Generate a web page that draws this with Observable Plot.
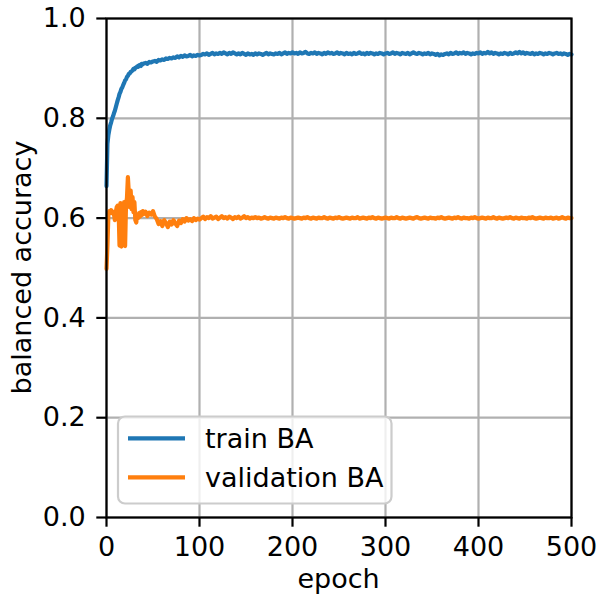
<!DOCTYPE html>
<html>
<head>
<meta charset="utf-8">
<script src="https://cdn.jsdelivr.net/npm/d3@7"></script>
<script src="https://cdn.jsdelivr.net/npm/@observablehq/plot@0.6"></script>
<style>
  html, body { margin: 0; padding: 0; background: white; }
</style>
</head>
<body>
<div id="chart"></div>
<script>
// Epochs: every epoch 0..40, then every 2nd epoch 42..500
const epochs = d3.range(0, 41).concat(d3.range(42, 501, 2));

const trainBA = [
  .664,.749,.766,.777,.786,.792,.799,.804,.810,.815,
  .822,.829,.836,.842,.849,.853,.859,.862,.867,.871,
  .876,.878,.883,.885,.889,.890,.893,.894,.896,.899,
  .898,.901,.902,.904,.903,.906,.907,.905,.909,.908,
  .910,
  // 42..100
  .911,.909,.913,.912,.914,.915,.913,.917,.916,.918,
  .917,.920,.919,.921,.920,.922,.921,.924,.922,.925,
  .923,.926,.924,.925,.927,.924,.926,.925,.927,.926,
  // 102..500
  .927,.929,.928,.930,.927,.929,.931,.928,.930,.929,
  .931,.929,.932,.930,.928,.931,.929,.932,.930,.928,
  .930,.928,.931,.929,.927,.930,.928,.929,.927,.930,
  .928,.930,.929,.927,.929,.931,.928,.930,.929,.928,
  .930,.929,.931,.928,.930,.932,.929,.931,.930,.932,
  .930,.931,.929,.932,.930,.931,.933,.930,.929,.931,
  .930,.932,.929,.931,.930,.928,.931,.929,.932,.930,
  .931,.929,.930,.932,.929,.931,.930,.928,.931,.929,
  .930,.928,.931,.929,.930,.932,.929,.930,.928,.931,
  .929,.931,.930,.928,.930,.929,.931,.930,.928,.930,
  .931,.929,.930,.932,.929,.931,.930,.928,.931,.930,
  .929,.931,.928,.930,.932,.930,.929,.931,.930,.928,
  .930,.929,.931,.928,.930,.929,.927,.929,.926,.928,
  .927,.929,.930,.928,.931,.929,.930,.932,.929,.931,
  .930,.932,.929,.931,.930,.928,.930,.929,.931,.930,
  .932,.929,.931,.930,.933,.930,.932,.929,.931,.930,
  .928,.930,.929,.931,.930,.928,.931,.929,.930,.932,
  .930,.933,.930,.932,.929,.931,.930,.929,.931,.928,
  .930,.929,.931,.930,.928,.930,.929,.931,.930,.928,
  .930,.931,.929,.930,.928,.930,.929,.927,.929,.928
];

const validationBA = [
  .498,.545,.605,.614,.612,.616,.610,.613,.608,.596,
  .612,.622,.625,.618,.545,.630,.543,.625,.548,.632,
  .544,.628,.640,.682,.650,.622,.655,.618,.642,.612,
  .632,.596,.591,.606,.600,.610,.603,.612,.606,.614,
  .608,
  // 42..100
  .613,.604,.611,.607,.614,.603,.598,.588,.594,.584,
  .596,.590,.582,.593,.587,.596,.589,.584,.595,.590,
  .598,.593,.600,.595,.598,.594,.600,.596,.599,.597,
  // 102..500
  .600,.603,.598,.602,.600,.604,.599,.601,.603,.598,
  .601,.604,.600,.602,.599,.603,.601,.598,.602,.600,
  .603,.599,.601,.604,.600,.602,.599,.601,.600,.602,
  .600,.601,.599,.600,.602,.600,.599,.601,.600,.599,
  .601,.600,.599,.601,.600,.602,.600,.599,.601,.600,
  .599,.600,.601,.600,.599,.601,.600,.602,.600,.599,
  .601,.600,.599,.601,.600,.600,.602,.600,.599,.601,
  .600,.599,.601,.600,.602,.600,.599,.600,.601,.600,
  .599,.601,.600,.600,.602,.599,.600,.601,.600,.599,
  .601,.600,.602,.600,.599,.601,.600,.599,.600,.601,
  .600,.599,.601,.600,.600,.602,.600,.599,.601,.600,
  .599,.600,.601,.600,.599,.601,.602,.600,.599,.600,
  .601,.600,.599,.601,.600,.600,.599,.601,.600,.602,
  .600,.599,.600,.601,.600,.599,.601,.600,.602,.600,
  .599,.601,.600,.600,.599,.601,.600,.602,.600,.599,
  .600,.601,.600,.599,.601,.600,.600,.602,.600,.599,
  .601,.600,.599,.600,.601,.600,.602,.600,.599,.601,
  .600,.599,.601,.600,.600,.599,.601,.600,.602,.600,
  .599,.600,.601,.600,.599,.601,.600,.600,.601,.599,
  .600,.601,.599,.600,.602,.600,.599,.601,.600,.600
];

const xTicks = [0, 100, 200, 300, 400, 500];
const yTicks = [0.0, 0.2, 0.4, 0.6, 0.8, 1.0];
const seriesNames = ["train BA", "validation BA"];
const seriesColors = ["#1f77b4", "#ff7f0e"];
const xLabel = "epoch";
const yLabel = "balanced accuracy";

const trainData = epochs.map((e, i) => ({epoch: e, ba: trainBA[i]}));
const valData = epochs.map((e, i) => ({epoch: e, ba: validationBA[i]}));

const FONT = "DejaVu Sans, sans-serif";
const FS = 27;
const LW = 4.2;

const chart = Plot.plot({
  width: 600,
  height: 598,
  marginLeft: 106,
  marginRight: 29,
  marginTop: 18,
  marginBottom: 81,
  style: {fontFamily: FONT, fontSize: FS + "px", background: "white", color: "black", overflow: "visible"},
  x: {domain: [0, 500]},
  y: {domain: [0, 1]},
  marks: [
    Plot.gridX(xTicks, {stroke: "#b0b0b0", strokeOpacity: 1, strokeWidth: 2.2}),
    Plot.gridY(yTicks, {stroke: "#b0b0b0", strokeOpacity: 1, strokeWidth: 2.2}),
    Plot.line(trainData, {x: "epoch", y: "ba", stroke: seriesColors[0], strokeWidth: LW}),
    Plot.line(valData, {x: "epoch", y: "ba", stroke: seriesColors[1], strokeWidth: LW}),
    Plot.axisX(xTicks, {tickSize: 9.7, tickPadding: 10, strokeWidth: 2.2, tickFormat: d => String(d), label: null, fontSize: FS}),
    Plot.axisY(yTicks, {tickSize: 9.7, tickPadding: 11, strokeWidth: 2.2, tickFormat: d => d.toFixed(1), label: null, fontSize: FS}),
    Plot.frame({stroke: "black", strokeWidth: 2.2})
  ]
});

document.getElementById("chart").appendChild(chart);

// Axis titles and legend
const svg = d3.select(chart);
const xs = chart.scale("x"), ys = chart.scale("y");
const xMid = (xs.range[0] + xs.range[1]) / 2;
const yMid = (ys.range[0] + ys.range[1]) / 2;

svg.append("text")
  .attr("x", xMid).attr("y", 588)
  .attr("text-anchor", "middle")
  .attr("font-family", FONT).attr("font-size", FS)
  .attr("fill", "black")
  .text(xLabel);

svg.append("text")
  .attr("transform", `translate(31,${yMid}) rotate(-90)`)
  .attr("text-anchor", "middle")
  .attr("font-family", FONT).attr("font-size", FS)
  .attr("fill", "black")
  .text(yLabel);

const lg = svg.append("g");
lg.append("rect")
  .attr("x", 118).attr("y", 416.5)
  .attr("width", 273.5).attr("height", 87)
  .attr("rx", 7).attr("ry", 7)
  .attr("fill", "white").attr("fill-opacity", 0.8)
  .attr("stroke", "#cccccc").attr("stroke-width", 2.2);
seriesNames.forEach((name, i) => {
  const y = 438.3 + i * 39;
  lg.append("line")
    .attr("x1", 128).attr("x2", 185).attr("y1", y).attr("y2", y)
    .attr("stroke", seriesColors[i]).attr("stroke-width", LW);
  lg.append("text")
    .attr("x", 205).attr("y", y + 10)
    .attr("text-anchor", "start")
    .attr("font-family", FONT).attr("font-size", FS)
    .attr("fill", "black")
    .text(name);
});
</script>
</body>
</html>
